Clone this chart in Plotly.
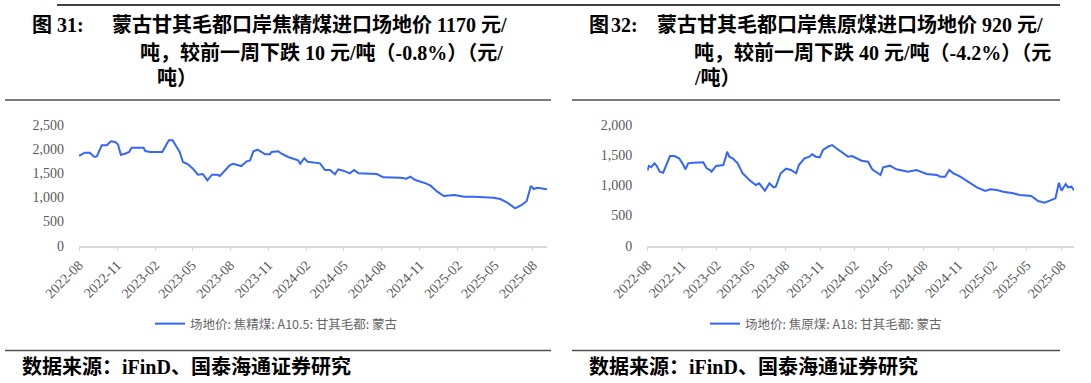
import plotly.graph_objects as go

# ---------------- data ----------------
clean_dates = ["2022-08-01","2022-08-03","2022-08-15","2022-08-27","2022-09-07","2022-09-13","2022-09-25","2022-10-07",
               "2022-10-17","2022-10-27","2022-11-03","2022-11-10","2022-11-20","2022-11-30","2022-12-06","2023-01-04",
               "2023-01-08","2023-01-20","2023-02-18","2023-02-26","2023-03-06","2023-03-15","2023-03-24","2023-04-01",
               "2023-04-09","2023-04-21","2023-05-03","2023-05-15","2023-05-27","2023-06-07","2023-06-18","2023-07-01",
               "2023-07-07","2023-07-19","2023-07-31","2023-08-08","2023-08-20","2023-08-28","2023-09-10","2023-09-18",
               "2023-09-26","2023-10-06","2023-10-16","2023-10-24","2023-11-05","2023-11-09","2023-11-25","2023-12-03",
               "2023-12-19","2024-01-01","2024-01-12","2024-01-17","2024-01-27","2024-02-04","2024-02-19","2024-03-05",
               "2024-03-17","2024-03-29","2024-04-10","2024-04-18","2024-04-30","2024-05-16","2024-05-26","2024-06-06",
               "2024-07-20","2024-08-05","2024-09-15","2024-09-30","2024-10-09","2024-10-21","2024-11-15","2024-11-27",
               "2024-12-13","2024-12-29","2025-01-23","2025-02-16","2025-03-12","2025-04-28","2025-05-14","2025-05-30",
               "2025-06-19","2025-07-05","2025-07-17","2025-07-27","2025-08-03","2025-08-12","2025-09-04"]
clean_price = [1872,1870,1926,1926,1837,1850,2079,2079,
               2162,2148,2100,1885,1905,1940,2030,2030,
               1961,1940,1940,2079,2183,2183,2044,1940,
               1733,1685,1595,1470,1485,1354,1470,1470,
               1445,1561,1664,1698,1678,1650,1747,1768,
               1955,1990,1940,1892,1892,1940,1955,1905,
               1837,1802,1768,1699,1812,1740,1720,1706,
               1568,1568,1478,1582,1554,1499,1568,1499,
               1485,1416,1409,1389,1430,1361,1292,1243,
               1119,1030,1050,1015,1015,994,967,898,
               774,843,926,1236,1174,1201,1170]

raw_dates = ["2022-08-01","2022-08-05","2022-08-11","2022-08-20","2022-08-26","2022-09-03","2022-09-12","2022-09-21",
             "2022-09-30","2022-10-12","2022-10-24","2022-11-02","2022-11-10","2022-11-17","2022-11-30","2022-12-27",
             "2023-01-05","2023-01-14","2023-01-18","2023-01-30","2023-02-18","2023-02-25","2023-02-28","2023-03-06",
             "2023-03-15","2023-03-28","2023-04-10","2023-04-28","2023-05-15","2023-05-24","2023-06-08","2023-06-20",
             "2023-07-01","2023-07-07","2023-07-20","2023-08-03","2023-08-16","2023-08-30","2023-09-06","2023-09-21",
             "2023-10-04","2023-10-11","2023-10-21","2023-10-31","2023-11-09","2023-11-22","2023-12-03","2023-12-14",
             "2024-01-01","2024-01-14","2024-01-25","2024-02-05","2024-02-19","2024-03-07","2024-03-18","2024-04-09",
             "2024-04-16","2024-05-04","2024-05-21","2024-06-21","2024-07-13","2024-08-09","2024-09-05","2024-09-14",
             "2024-09-27","2024-10-08","2024-10-19","2024-11-06","2024-12-02","2024-12-20","2025-01-11","2025-01-24",
             "2025-02-11","2025-02-28","2025-03-26","2025-04-12","2025-05-13","2025-05-31","2025-06-17","2025-06-30",
             "2025-07-16","2025-07-25","2025-08-01","2025-08-12","2025-08-18","2025-08-27","2025-09-03"]
raw_price = [1243,1321,1300,1365,1321,1226,1210,1365,
             1486,1486,1448,1365,1266,1365,1375,1381,
             1282,1254,1226,1321,1337,1475,1558,1475,
             1448,1365,1200,1089,1006,1033,911,1033,
             967,978,1200,1276,1254,1200,1337,1448,
             1475,1514,1475,1464,1586,1640,1668,1614,
             1531,1475,1486,1448,1409,1392,1266,1172,
             1299,1326,1266,1226,1254,1188,1172,1143,
             1143,1254,1200,1143,1034,967,906,934,
             922,895,868,840,823,740,713,740,
             785,1044,911,1022,967,978,920]

tick_vals = ["2022-08-01","2022-11-01","2023-02-01","2023-05-01","2023-08-01","2023-11-01","2024-02-01",
             "2024-05-01","2024-08-01","2024-11-01","2025-02-01","2025-05-01","2025-08-01"]
tick_text = ["2022-08","2022-11","2023-02","2023-05","2023-08","2023-11","2024-02",
             "2024-05","2024-08","2024-11","2025-02","2025-05","2025-08"]

clean_name = "场地价: 焦精煤: A10.5: 甘其毛都: 蒙古"
raw_name = "场地价: 焦原煤: A18: 甘其毛都: 蒙古"

# ---------------- layout helpers ----------------
W, H = 1091, 383
def px(x):
    return x / W
def py(y):
    return 1 - y / H

LINE_COLOR = "#3366FF"
GRAY = "#595959"
TICK_FONT = dict(family="Liberation Serif, Times New Roman, serif", size=14, color=GRAY)
TITLE_FONT = dict(family="Liberation Serif, Noto Sans CJK SC, serif", size=20, color="#000000")
LEG_FONT = dict(family="Noto Sans CJK SC, sans-serif", size=12.5, color="#666666")

fig = go.Figure()
fig.add_trace(go.Scatter(x=clean_dates, y=clean_price, mode="lines", name=clean_name,
                         line=dict(color=LINE_COLOR, width=2), xaxis="x", yaxis="y", legend="legend"))
fig.add_trace(go.Scatter(x=raw_dates, y=raw_price, mode="lines", name=raw_name,
                         line=dict(color=LINE_COLOR, width=2), xaxis="x2", yaxis="y2", legend="legend2"))

ydom = [py(245.7), py(125)]
xcommon = dict(type="date", tickmode="array", tickvals=tick_vals, ticktext=tick_text, tickangle=-45,
               showline=True, linecolor="#d9d9d9", linewidth=1.5, ticks="outside", ticklen=4,
               tickcolor="#d9d9d9", tickfont=TICK_FONT, showgrid=False, zeroline=False, automargin=False)
ycommon = dict(showline=False, showgrid=False, zeroline=False, ticks="", tickfont=TICK_FONT,
               tickformat=",d", automargin=False)

fig.update_layout(
    template="none",
    width=W, height=H, margin=dict(l=0, r=0, t=0, b=0, autoexpand=False),
    paper_bgcolor="white", plot_bgcolor="white",
    xaxis=dict(domain=[px(79), px(547)], range=["2022-08-01", "2025-09-04"], anchor="y", **xcommon),
    yaxis=dict(domain=ydom, range=[0, 2500], tickvals=[0, 500, 1000, 1500, 2000, 2500],
               anchor="x", ticklabelstandoff=14, **ycommon),
    xaxis2=dict(domain=[px(647.3), px(1074)], range=["2022-08-01", "2025-09-03"], anchor="y2", **xcommon),
    yaxis2=dict(domain=ydom, range=[0, 2000], tickvals=[0, 500, 1000, 1500, 2000],
                anchor="x2", ticklabelstandoff=14, **ycommon),
    legend=dict(x=px(150), y=py(324), xanchor="left", yanchor="middle", font=LEG_FONT,
                bgcolor="rgba(0,0,0,0)", itemwidth=30),
    legend2=dict(x=px(705), y=py(324), xanchor="left", yanchor="middle", font=LEG_FONT,
                 bgcolor="rgba(0,0,0,0)", itemwidth=30),
    showlegend=True,
)

# ---------------- rules ----------------
rule = dict(type="line", xref="paper", yref="paper")
shapes = [
    dict(x0=px(57), x1=px(1060), y0=py(5), y1=py(5), line=dict(color="#404040", width=2), **rule),
    dict(x0=px(5), x1=px(551), y0=py(100), y1=py(100), line=dict(color="#505050", width=1.5), **rule),
    dict(x0=px(572), x1=px(1060), y0=py(100), y1=py(100), line=dict(color="#505050", width=1.5), **rule),
    dict(x0=px(5), x1=px(551), y0=py(350.5), y1=py(350.5), line=dict(color="#505050", width=1.5), **rule),
    dict(x0=px(572), x1=px(1060), y0=py(350.5), y1=py(350.5), line=dict(color="#505050", width=1.5), **rule),
]
fig.update_layout(shapes=shapes)

# ---------------- text ----------------
def txt(x, y, s, font=TITLE_FONT):
    fig.add_annotation(x=px(x), y=py(y), xref="paper", yref="paper", text=s, showarrow=False,
                       xanchor="left", yanchor="middle", align="left", font=font)

# left title
txt(30, 25, "<b>图</b>")
txt(55, 25, "<b>31:</b>")
txt(110, 25, "<b>蒙古甘其毛都口岸焦精煤进口场地价 1170 元/</b>")
txt(138, 52, "<b>吨，较前一周下跌 10 元/吨（-0.8%）（元/</b>")
txt(155, 78, "<b>吨）</b>")
# right title
txt(587, 25, "<b>图</b>")
txt(609, 25, "<b>32:</b>")
txt(655, 25, "<b>蒙古甘其毛都口岸焦原煤进口场地价 920 元/</b>")
txt(692, 52, "<b>吨，较前一周下跌 40 元/吨（-4.2%）（元</b>")
txt(692, 78, "<b>/吨）</b>")
# sources
txt(20, 366, "<b>数据来源：iFinD、国泰海通证券研究</b>")
txt(587, 366, "<b>数据来源：iFinD、国泰海通证券研究</b>")

fig.write_html("out.html", config={"displayModeBar": False},
               post_script="document.body.style.margin='0';document.body.style.padding='0';")
